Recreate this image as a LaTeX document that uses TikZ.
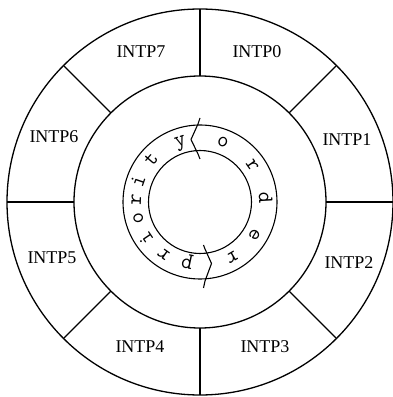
\documentclass[tikz,border=0pt]{standalone}
\usepackage{fontspec}
\setmainfont{Liberation Serif}
\begin{document}
\begin{tikzpicture}[x=1pt,y=1pt,line join=round,
  ringline/.style={line width=1.3pt},
  divline/.style={line width=1.4pt},
  thinring/.style={line width=1.1pt},
  lab/.style={font=\fontsize{18}{18}\selectfont,inner sep=0pt},
  ltr/.style={font=\ttfamily\fontsize{22}{22}\selectfont,anchor=base,inner sep=0pt}]
\useasboundingbox (0,0) rectangle (393,397);
\coordinate (c) at (200,195);
\begin{scope}[shift={(c)}]
  \draw[ringline] (0,0) circle (193);
  \draw[ringline] (0,0) circle (126);
  \foreach \a in {0,45,...,315}
    \draw[divline] (\a:126) -- (\a:193);
  \draw[thinring] (0,0) circle (77);
  \draw[thinring] (0,0) circle (51.5);
  % chevrons
  \draw[thinring] (0,84) -- (-2,78) -- (-9,62.5) -- (-2,48) -- (0,43);
  \draw[thinring] (3.5,-43) -- (5,-47) -- (11.5,-61.5) -- (5,-79) -- (3.5,-86);
  \foreach \ch/\a [count=\i] in {p/258,r/235,i/214,o/195,r/178,i/161,t/139,y/108}
    \node[ltr,rotate=\a-90] (pr\i) at (\a:59) {\ch};
  \foreach \ch/\a [count=\i] in {o/69,r/35,d/3.5,e/-31,r/-60}
    \node[ltr,rotate=\a-90] (or\i) at (\a:59) {\ch};
\end{scope}
\node[lab] (i0) at (257,345) {INTP0};
\node[lab] (i1) at (347,257) {INTP1};
\node[lab] (i2) at (349,134) {INTP2};
\node[lab] (i3) at (265,50) {INTP3};
\node[lab] (i4) at (140,50) {INTP4};
\node[lab] (i5) at (52,139) {INTP5};
\node[lab] (i6) at (54,260) {INTP6};
\node[lab] (i7) at (141,345) {INTP7};
\end{tikzpicture}
\end{document}
